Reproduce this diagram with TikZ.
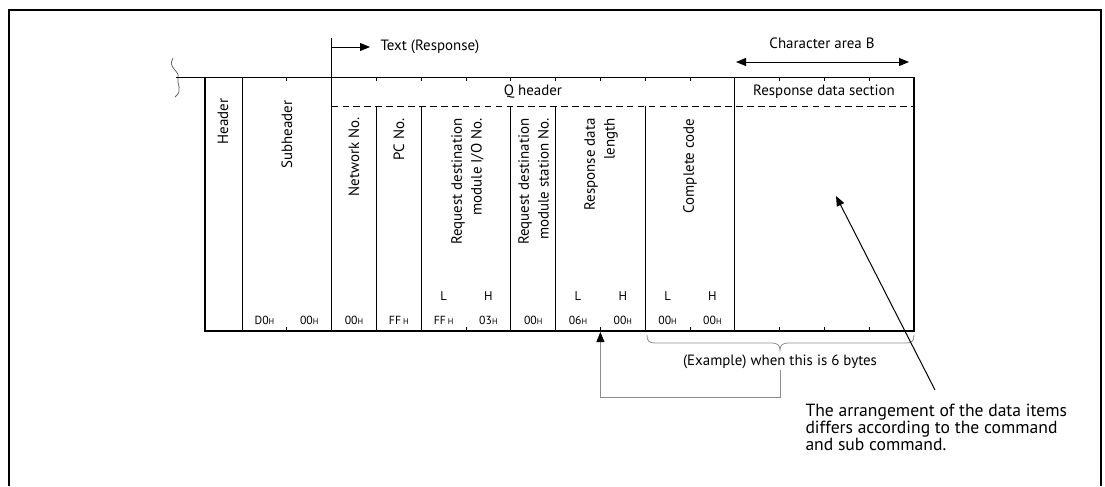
\documentclass[tikz,border=0pt]{standalone}
\usepackage{fontspec}
\setmainfont{PT Sans}
\usetikzlibrary{arrows.meta}

\tikzset{every picture/.style={line width=0.75pt}}
\tikzset{
  lbl/.style={inner sep=0.75pt,font=\fontsize{11.2}{13}\selectfont},
  vlabel/.style={rotate=90,anchor=east,align=right,inner sep=0.75pt,font=\fontsize{11.2}{14.8}\selectfont},
  val/.style={inner sep=0.75pt,font=\fontsize{8.8}{10}\selectfont},
  tip/.style={-{Triangle[length=7.5pt,width=6pt]}},
  thickframe/.style={line width=1.5pt},
  conn/.style={draw=black!45,line width=0.6pt},
}
\newcommand{\hexv}[1]{#1{\fontsize{6.2}{7}\selectfont H}}

\begin{document}
\begin{tikzpicture}[x=0.75pt,y=0.75pt,yscale=-1,xscale=1]
\useasboundingbox (0,0) rectangle (1105,486);

%Outer frame (open at the bottom)
\draw [thickframe] (9,486) -- (9,10) -- (1101,10) -- (1101,486) ;

%Break line [left of the table]
\draw [black!60,line width=0.6pt] (173,58) .. controls (167,68) and (180,71) .. (178,77) .. controls (176,84) and (184,90) .. (175,97) ;
%Straight Lines [table top]
\draw   (176,77) -- (914,77) ;
%Shape: table frame
\draw [thickframe]  (205,77) -- (205,331) -- (914,331) -- (914,77) ;

%Byte ticks, top and bottom
\foreach \k in {1,...,14}{
  \draw (242+\k*44.8,77) -- ++(0,4) ;
  \draw (242+\k*44.8,331) -- ++(0,-4) ;
}

%Column lines
\draw   (242,77) -- (242,331) ;
\draw   (331.6,38) -- (331.6,331) ;
\draw   (734.8,77) -- (734.8,331) ;
\foreach \cx in {376.4,421.2,510.8,555.6,645.2}{
  \draw (\cx,106) -- (\cx,331) ;
}
%Dashed line under the header row
\draw [dash pattern={on 5pt off 3.2pt}]  (331.6,106) -- (914,106) ;

% Text Node
\node (txt) [lbl,anchor=west,inner xsep=7.5pt] at (370,47) {Text (Response)};
\coordinate (txs) at (331.6,47);
\draw [tip] (txs) -- (txt.west) ;

% Text Node
\node (cab) [lbl] at (822,43) {Character area B};
\coordinate (cabl) at (736,62);
\coordinate (cabr) at (909,62);
\draw [{Triangle[length=7.5pt,width=6pt]}-{Triangle[length=7.5pt,width=6pt]}] (cabl) -- (cabr) ;

% Text Node
\node (qhd) [lbl] at (533,92) {Q header};
% Text Node
\node (rds) [lbl] at (824,92) {Response data section};

% Rotated text nodes
\node (hdr) [vlabel] at (223,97) {Header};
\node (shd) [vlabel] at (287,99) {Subheader};
\node (net) [vlabel] at (354,116) {Network No.};
\node (pcn) [vlabel] at (399,117) {PC No.};
\node (rio) [vlabel] at (467.5,117) {Request destination\\module I/O No.};
\node (rst) [vlabel] at (533.5,117) {Request destination\\module station No.};
\node (rdl) [vlabel] at (601,117) {Response data\\length};
\node (ccd) [vlabel] at (690,117) {Complete code};

% L / H marks
\foreach \k/\t [count=\i] in {4/L,5/H,7/L,8/H,9/L,10/H}{
  \node (lh\i) [val,font=\fontsize{9.5}{10}\selectfont] at (242+\k*44.8+22.4,296) {\t};
}

% Byte values
\foreach \k/\t in {0/D0,1/00,2/00,3/FF\,,4/FF\,,5/03,6/00,7/06,8/00,9/00,10/00}{
  \node (v\k) [val] at (242+\k*44.8+22.4,320) {\hexv{\t}};
}

%Curve Lines [brace under the 6 bytes]
\draw [conn] (647,335) .. controls (647,341) and (649,343) .. (655,343) -- (772,343) .. controls (777,343) and (780,345) .. (780,350) .. controls (780,345) and (783,343) .. (788,343) -- (906,343) .. controls (912,343) and (914,341) .. (914,335) ;
% Text Node
\node (ex) [lbl] at (780,362) {(Example) when this is 6 bytes};
\coordinate (lnbot) at (600.4,397);
\coordinate (lntip) at (600.4,332);
\draw [conn] (ex.south) |- (lnbot) ;
\draw [conn,-{Triangle[length=7.5pt,width=6pt,color=black]}] (lnbot) -- (lntip) ;

% Text Node
\node (note) [anchor=north west,align=left,inner sep=0.75pt,font=\fontsize{13.2}{12.6}\selectfont] at (804,403) {The arrangement of the data items\\differs according to the command\\and sub command.};
\coordinate (nt) at (935,390);
\coordinate (tgt) at (836,196);
\draw [tip] (nt) -- (tgt) ;

\end{tikzpicture}
\end{document}
